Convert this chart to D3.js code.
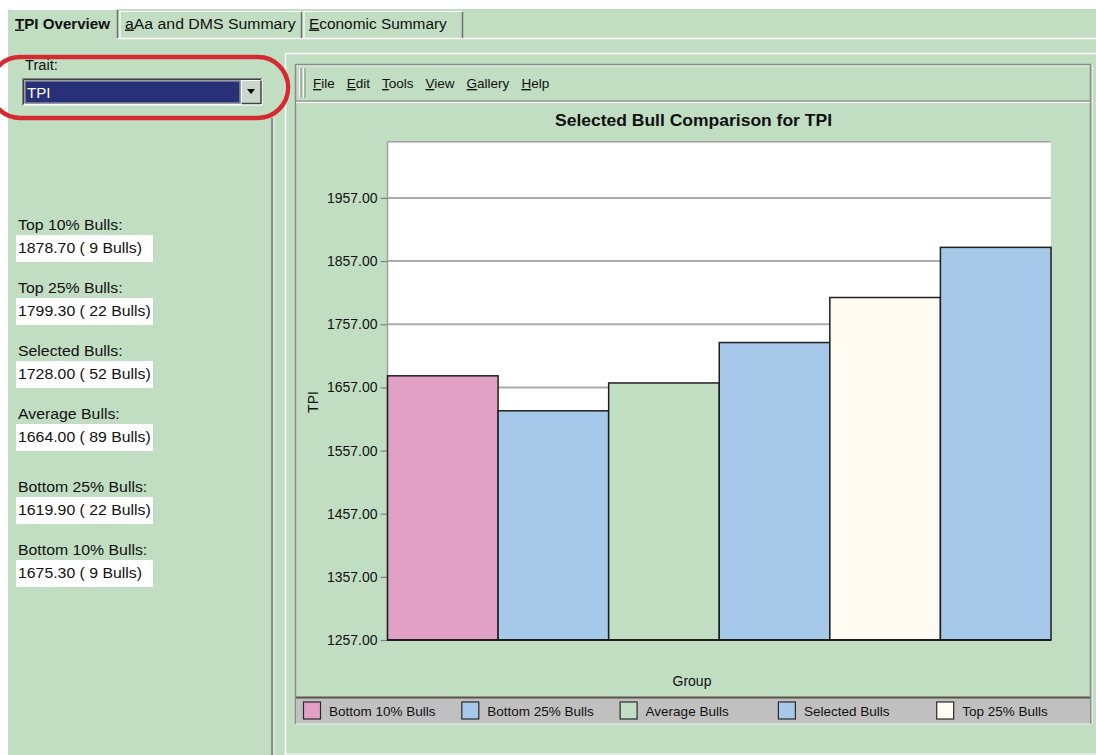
<!DOCTYPE html>
<html>
<head>
<meta charset="utf-8">
<script src="https://cdn.jsdelivr.net/npm/d3@7"></script>
<style>
  html, body { margin: 0; padding: 0; background: #ffffff; }
  svg { display: block; }
  text { font-family: "Liberation Sans", Arial, sans-serif; fill: #111; }
</style>
</head>
<body>
<svg id="chart" width="1096" height="755"></svg>
<script>
// ---------- data ----------
const categories = ["Bottom 10% Bulls", "Bottom 25% Bulls", "Average Bulls", "Selected Bulls", "Top 25% Bulls", "Top 10% Bulls"];
const values = [1675.3, 1619.9, 1664.0, 1728.0, 1799.3, 1878.7];
const barColors = ["#E0A1C5", "#A6C8E9", "#C1DEC3", "#A6C8E9", "#FFFBF2", "#A6C8E9"];
const legendItems = ["Bottom 10% Bulls", "Bottom 25% Bulls", "Average Bulls", "Selected Bulls", "Top 25% Bulls"];
const yTicks = [1257, 1357, 1457, 1557, 1657, 1757, 1857, 1957];
const yDomain = [1257, 2046];

const summaryLabels = ["Top 10% Bulls:", "Top 25% Bulls:", "Selected Bulls:", "Average Bulls:", "Bottom 25% Bulls:", "Bottom 10% Bulls:"];
const summaryValues = [1878.70, 1799.30, 1728.00, 1664.00, 1619.90, 1675.30];
const summaryCounts = [9, 22, 52, 89, 22, 9];

const tabs = ["TPI Overview", "aAa and DMS Summary", "Economic Summary"];
const menuItems = ["File", "Edit", "Tools", "View", "Gallery", "Help"];

const chartTitle = "Selected Bull Comparison for TPI";
const yLabel = "TPI";
const xLabel = "Group";

// ---------- helpers ----------
const BG = "#C1DEC3";
const svg = d3.select("#chart");

function stretch(sel, k) {
  sel.each(function () {
    const w = this.getComputedTextLength();
    this.setAttribute("textLength", (w * k).toFixed(2));
    this.setAttribute("lengthAdjust", "spacingAndGlyphs");
  });
  return sel;
}
function mnemonicText(g, str, x, y, opts) {
  const t = g.append("text").attr("x", x).attr("y", y)
    .style("font-size", opts.size + "px")
    .style("font-weight", opts.bold ? "bold" : "normal");
  t.append("tspan").style("text-decoration", "underline").text(str[0]);
  t.append("tspan").text(str.slice(1));
  return t;
}
function line(x1, y1, x2, y2, color, w) {
  svg.append("line").attr("x1", x1).attr("y1", y1).attr("x2", x2).attr("y2", y2)
    .attr("stroke", color).attr("stroke-width", w || 1);
}

// ---------- window background ----------
svg.append("rect").attr("x", 8).attr("y", 9).attr("width", 1088).attr("height", 746).attr("fill", BG);

// ---------- tabs ----------
const tabG = svg.append("g");
const tabBounds = [[8, 118], [119, 302], [303, 463]];
const tabStretch = [1.08, 1.13, 1.1];
line(118, 38.5, 1096, 38.5, "#ffffff", 1.5);
tabBounds.forEach((b, i) => {
  const top = i === 0 ? 9 : 11;
  if (i > 0) line(b[0] + 1, top, b[0] + 1, 38, "#ffffff", 1.2);
  line(b[0] + 1, top + 0.5, b[1] - 1, top + 0.5, "#ffffff", 1);
  line(b[1] - 0.5, top + 1, b[1] - 0.5, 38, "#707070", 1.5);
  const t = mnemonicText(tabG, tabs[i], b[0] + (i === 0 ? 7 : 6), 28.5, { size: 14, bold: i === 0 });
  stretch(t, tabStretch[i]);
});

// ---------- outer chart panel borders ----------
line(285, 53.5, 1096, 53.5, "#ffffff", 1.5);
line(285.5, 53, 285.5, 755, "#ffffff", 1.5);
line(285, 754, 1096, 754, "#ffffff", 1);

// left split separator
line(272, 118, 272, 755, "#8C8C8C", 2);
line(274, 118, 274, 755, "#E6F0E6", 1);

// ---------- trait selector ----------
const trait = svg.append("g");
stretch(trait.append("text").attr("x", 25).attr("y", 69.5).style("font-size", "14px").text("Trait:"), 1.05);
trait.append("rect").attr("x", 22.5).attr("y", 78.5).attr("width", 240).attr("height", 27)
  .attr("fill", "#ffffff").attr("stroke", "none");
line(22.5, 78.5, 262, 78.5, "#808080", 1);
line(22.5, 78.5, 22.5, 105.5, "#808080", 1);
line(23.5, 79.5, 261, 79.5, "#404040", 1);
line(23.5, 79.5, 23.5, 104.5, "#404040", 1);
trait.append("rect").attr("x", 24.5).attr("y", 80.5).attr("width", 216).attr("height", 23).attr("fill", "#283078");
trait.append("rect").attr("x", 25.5).attr("y", 81.5).attr("width", 214).attr("height", 21)
  .attr("fill", "none").attr("stroke", "#E8E070").attr("stroke-width", 0.8).attr("stroke-dasharray", "1,1");
stretch(trait.append("text").attr("x", 27).attr("y", 97.5).style("font-size", "14px").style("fill", "#ffffff").text("TPI"), 1.08);
trait.append("rect").attr("x", 241).attr("y", 80.5).attr("width", 20).attr("height", 23).attr("fill", "#C9D8CA");
line(241.5, 80.5, 241.5, 103.5, "#ffffff", 1);
line(241.5, 80.5, 261, 80.5, "#ffffff", 1);
line(261, 80.5, 261, 104, "#404040", 1.5);
line(241.5, 103.5, 261, 103.5, "#404040", 1.5);
trait.append("path").attr("d", "M247,89 L255,89 L251,94 Z").attr("fill", "#000");

// highlight oval
svg.append("rect").attr("x", -10).attr("y", 57).attr("width", 298).attr("height", 61).attr("rx", 30).attr("ry", 30)
  .attr("fill", "none").attr("stroke", "#D52A30").attr("stroke-width", 4.5);

// ---------- summary list ----------
const sum = svg.append("g");
summaryLabels.forEach((lab, i) => {
  const top = 235 + i * 63 + (i >= 4 ? 10 : 0);
  stretch(sum.append("text").attr("x", 18).attr("y", top - 5).style("font-size", "14px").text(lab), 1.13);
  sum.append("rect").attr("x", 16).attr("y", top).attr("width", 137).attr("height", 27).attr("fill", "#ffffff");
  stretch(sum.append("text").attr("x", 18).attr("y", top + 18).style("font-size", "14px")
    .text(`${summaryValues[i].toFixed(2)} ( ${summaryCounts[i]} Bulls)`), 1.13);
});

// ---------- inner chart frame ----------
line(295, 64.5, 1091, 64.5, "#8A8A8A", 1.5);
line(296, 66, 1090, 66, "#E4ECE4", 1);
line(295.5, 64, 295.5, 724, "#8A8A8A", 1.5);
line(1090.5, 64, 1090.5, 724, "#8A8A8A", 1.5);
line(1092.5, 64, 1092.5, 724, "#E4ECE4", 1);
// grip
line(299.5, 68, 299.5, 98, "#ffffff", 1); line(301, 68, 301, 98, "#8A8A8A", 1);
line(303.5, 68, 303.5, 98, "#ffffff", 1); line(305, 68, 305, 98, "#8A8A8A", 1);
// menu
const menu = svg.append("g");
let mx = 313;
menuItems.forEach(m => {
  const t = mnemonicText(menu, m, mx, 88, { size: 13.5, bold: false });
  mx += t.node().getComputedTextLength() + 12;
});
line(296, 101, 1090, 101, "#9A9A9A", 1.5);
line(296, 102.5, 1090, 102.5, "#ffffff", 1);

// title
svg.append("text").attr("x", 693.5).attr("y", 126).attr("text-anchor", "middle")
  .style("font-size", "16.5px").style("font-weight", "bold").text(chartTitle)
  .attr("textLength", 277).attr("lengthAdjust", "spacingAndGlyphs");

// ---------- plot ----------
const plotL = 387.5, plotR = 1051, plotT = 141.7, plotB = 640;
const x = d3.scaleBand().domain(categories).range([plotL, plotR]).padding(0);
const y = d3.scaleLinear().domain(yDomain).range([plotB, plotT]);

svg.append("rect").attr("x", plotL).attr("y", plotT).attr("width", plotR - plotL).attr("height", plotB - plotT).attr("fill", "#ffffff");
line(plotL, plotT, plotR, plotT, "#A0A0A0", 1.5);
line(plotL, plotT, plotL, plotB, "#A0A0A0", 1.5);

// grid
svg.append("g").selectAll("line").data(yTicks.filter(d => d > yDomain[0])).join("line")
  .attr("x1", plotL).attr("x2", plotR).attr("y1", d => y(d)).attr("y2", d => y(d))
  .attr("stroke", "#ABABAB").attr("stroke-width", 2);

// y axis
const yAxis = d3.axisLeft(y).tickValues(yTicks).tickFormat(d3.format(".2f")).tickSize(7).tickPadding(3);
const yg = svg.append("g").attr("transform", `translate(${plotL},0)`).call(yAxis);
yg.select(".domain").remove();
yg.selectAll(".tick line").attr("stroke", "#808080").attr("stroke-width", 1.2);
yg.selectAll(".tick text").style("font-size", "14px").style("font-family", "Liberation Sans, Arial, sans-serif").attr("fill", "#111");

// bars
svg.append("g").selectAll("rect").data(categories).join("rect")
  .attr("x", d => x(d)).attr("width", x.bandwidth())
  .attr("y", (d, i) => y(values[i])).attr("height", (d, i) => plotB - y(values[i]))
  .attr("fill", (d, i) => barColors[i]).attr("stroke", "#1E1E1E").attr("stroke-width", 1.5);

// baseline
line(plotL - 0.5, plotB, plotR, plotB, "#1E1E1E", 1.8);

// axis titles
svg.append("text").attr("transform", "translate(318,402) rotate(-90)").attr("text-anchor", "middle")
  .style("font-size", "14px").text(yLabel);
svg.append("text").attr("x", 692).attr("y", 686).attr("text-anchor", "middle")
  .style("font-size", "14px").text(xLabel);

// ---------- legend ----------
svg.append("rect").attr("x", 296).attr("y", 698).attr("width", 794).attr("height", 25.5).attr("fill", "#C0C0C0");
line(296, 697.5, 1090, 697.5, "#5E5048", 2);
line(296, 724, 1091, 724, "#EDEDED", 1);
const lg = svg.append("g").selectAll("g").data(legendItems).join("g")
  .attr("transform", (d, i) => `translate(${303.5 + i * 158.3},702)`);
lg.append("rect").attr("width", 17).attr("height", 17)
  .attr("fill", (d, i) => barColors[i]).attr("stroke", "#2A2A2A").attr("stroke-width", 1.2);
lg.append("text").attr("x", 25.5).attr("y", 13.5).style("font-size", "13.5px").text(d => d);
</script>
</body>
</html>
